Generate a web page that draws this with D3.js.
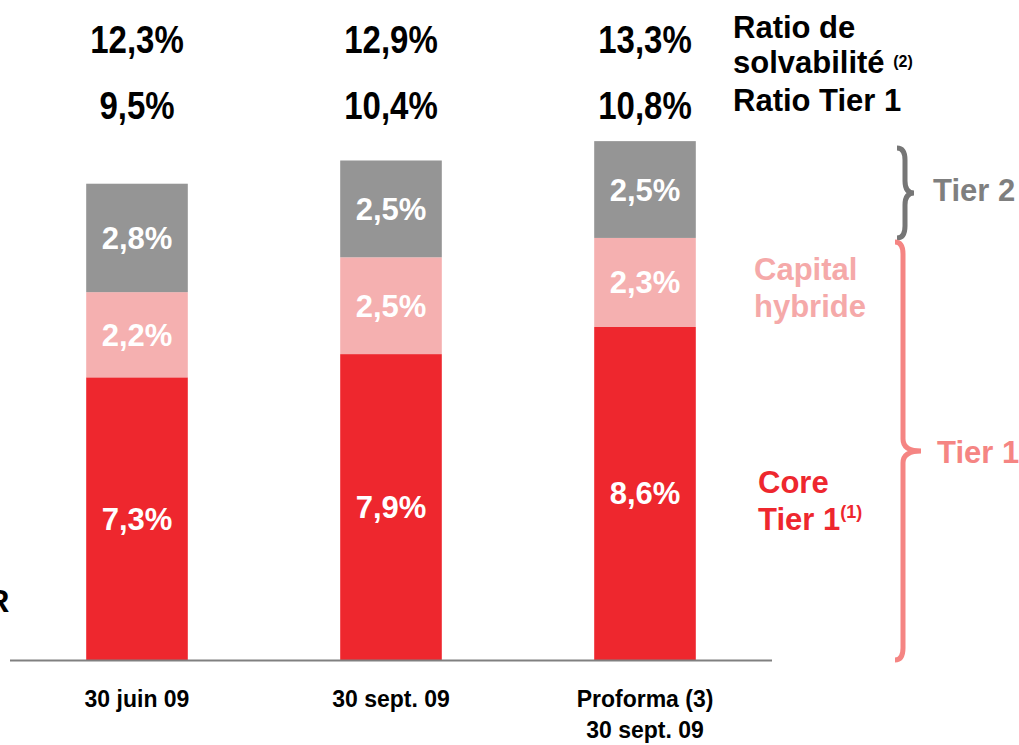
<!DOCTYPE html>
<html>
<head>
<meta charset="utf-8">
<script src="https://cdn.jsdelivr.net/npm/d3@7"></script>
<style>
  body { margin: 0; background: #fff; }
  svg { display: block; font-family: Arial, "Liberation Sans", sans-serif; font-weight: bold; }
</style>
</head>
<body>
<div id="chart"></div>
<script>
const categories = ['30 juin 09', '30 sept. 09', 'Proforma (3)\n30 sept. 09'];
const coreTier1 = [7.3, 7.9, 8.6];
const hybride = [2.2, 2.5, 2.3];
const tier2 = [2.8, 2.5, 2.5];
const solvabilite = ['12,3%', '12,9%', '13,3%'];
const ratioTier1 = ['9,5%', '10,4%', '10,8%'];

const COLORS = { core: '#ee272e', hybride: '#f5b0b0', tier2: '#959595' };
const W = 1019, H = 745;

const svg = d3.select('#chart').append('svg')
    .attr('width', W)
    .attr('height', H);

const x = d3.scaleBand()
    .domain(categories)
    .range([10, 772])
    .paddingInner(0.6)
    .paddingOuter(0.3);
// about 38.75 px per point
const y = d3.scaleLinear().domain([0, 13.3]).range([660, 145]);
const cx = c => x(c) + x.bandwidth() / 2;

const rows = categories.map((c, i) => ({
    cat: c,
    segs: [
        { key: 'core', v0: 0, v1: coreTier1[i] },
        { key: 'hybride', v0: coreTier1[i], v1: coreTier1[i] + hybride[i] },
        { key: 'tier2', v0: coreTier1[i] + hybride[i], v1: coreTier1[i] + hybride[i] + tier2[i] },
    ],
}));
const fmt = v => v.toFixed(1).replace('.', ',') + '%';

const barG = svg.append('g').selectAll('g')
    .data(rows)
    .enter()
    .append('g');
barG.selectAll('rect')
    .data(d => d.segs.map(s => ({ ...s, cat: d.cat })))
    .enter()
    .append('rect')
    .attr('x', d => x(d.cat))
    .attr('width', x.bandwidth())
    .attr('y', d => y(d.v1))
    .attr('height', d => y(d.v0) - y(d.v1))
    .attr('fill', d => COLORS[d.key]);
barG.selectAll('text')
    .data(d => d.segs.map(s => ({ ...s, cat: d.cat })))
    .enter()
    .append('text')
    .attr('x', d => cx(d.cat))
    .attr('y', d => (y(d.v0) + y(d.v1)) / 2 + 11)
    .attr('text-anchor', 'middle')
    .attr('font-size', '31px')
    .attr('fill', '#fff')
    .text(d => fmt(d.v1 - d.v0));

// axis line
svg.append('line')
    .attr('x1', 10).attr('x2', 772)
    .attr('y1', 660.5).attr('y2', 660.5)
    .attr('stroke', '#808080')
    .attr('stroke-width', 2);

// category labels
const catG = svg.append('g').attr('font-size', '23px');
categories.forEach(c => {
    c.split('\n').forEach((line, j) => {
        catG.append('text')
            .attr('x', cx(c))
            .attr('y', 707 + j * 31)
            .attr('text-anchor', 'middle')
            .attr('fill', '#000')
            .text(line);
    });
});

// top ratios (slightly tall lettering)
function tallText(g, tx, ty, txt) {
    g.append('text')
        .attr('transform', `translate(${tx},${ty}) scale(1,1.15)`)
        .attr('text-anchor', 'middle')
        .attr('font-size', '33px')
        .text(txt);
}
const topG = svg.append('g');
categories.forEach((c, i) => {
    tallText(topG, cx(c), 53, solvabilite[i]);
    tallText(topG, cx(c), 119, ratioTier1[i]);
});

svg.append('text').attr('x', 733).attr('y', 38).attr('font-size', '31px').text('Ratio de');
const solv = svg.append('text').attr('x', 733).attr('y', 73).attr('font-size', '31px');
solv.append('tspan').text('solvabilité ');
solv.append('tspan').attr('font-size', '16px').attr('dy', -6).text('(2)');
svg.append('text').attr('x', 733).attr('y', 111).attr('font-size', '31px').text('Ratio Tier 1');

// series labels
svg.append('text').attr('x', 754).attr('y', 280).attr('font-size', '31px').attr('fill', '#f5a9a9').text('Capital');
svg.append('text').attr('x', 754).attr('y', 317).attr('font-size', '31px').attr('fill', '#f5a9a9').text('hybride');
svg.append('text').attr('x', 758).attr('y', 493).attr('font-size', '31px').attr('fill', COLORS.core).text('Core');
const ct = svg.append('text').attr('x', 758).attr('y', 530).attr('font-size', '31px').attr('fill', COLORS.core);
ct.append('tspan').text('Tier 1');
ct.append('tspan').attr('font-size', '18px').attr('dy', -12).text('(1)');

// brackets
function brace(x0, y0, y1, w) {
    const ym = (y0 + y1) / 2, r = 8;
    return `M${x0},${y0} Q${x0 + r},${y0} ${x0 + r},${y0 + r * 1.5}`
        + ` L${x0 + r},${ym - r * 1.5} Q${x0 + r},${ym} ${x0 + w},${ym}`
        + ` Q${x0 + r},${ym} ${x0 + r},${ym + r * 1.5}`
        + ` L${x0 + r},${y1 - r * 1.5} Q${x0 + r},${y1} ${x0},${y1}`;
}
svg.append('path')
    .attr('d', brace(897, 148, 238, 17))
    .attr('fill', 'none').attr('stroke', '#767676').attr('stroke-width', 5);
svg.append('path')
    .attr('d', brace(895, 242, 660, 26))
    .attr('fill', 'none').attr('stroke', '#f58583').attr('stroke-width', 5);
svg.append('text').attr('x', 933).attr('y', 201).attr('font-size', '31px').attr('fill', '#7f7f7f').text('Tier 2');
svg.append('text').attr('x', 937).attr('y', 463).attr('font-size', '31px').attr('fill', '#f58583').text('Tier 1');

// letter cut by the left edge, as in the source slide
svg.append('text').attr('x', -13).attr('y', 612).attr('font-size', '31px').attr('fill', '#000').text('R');
</script>
</body>
</html>
